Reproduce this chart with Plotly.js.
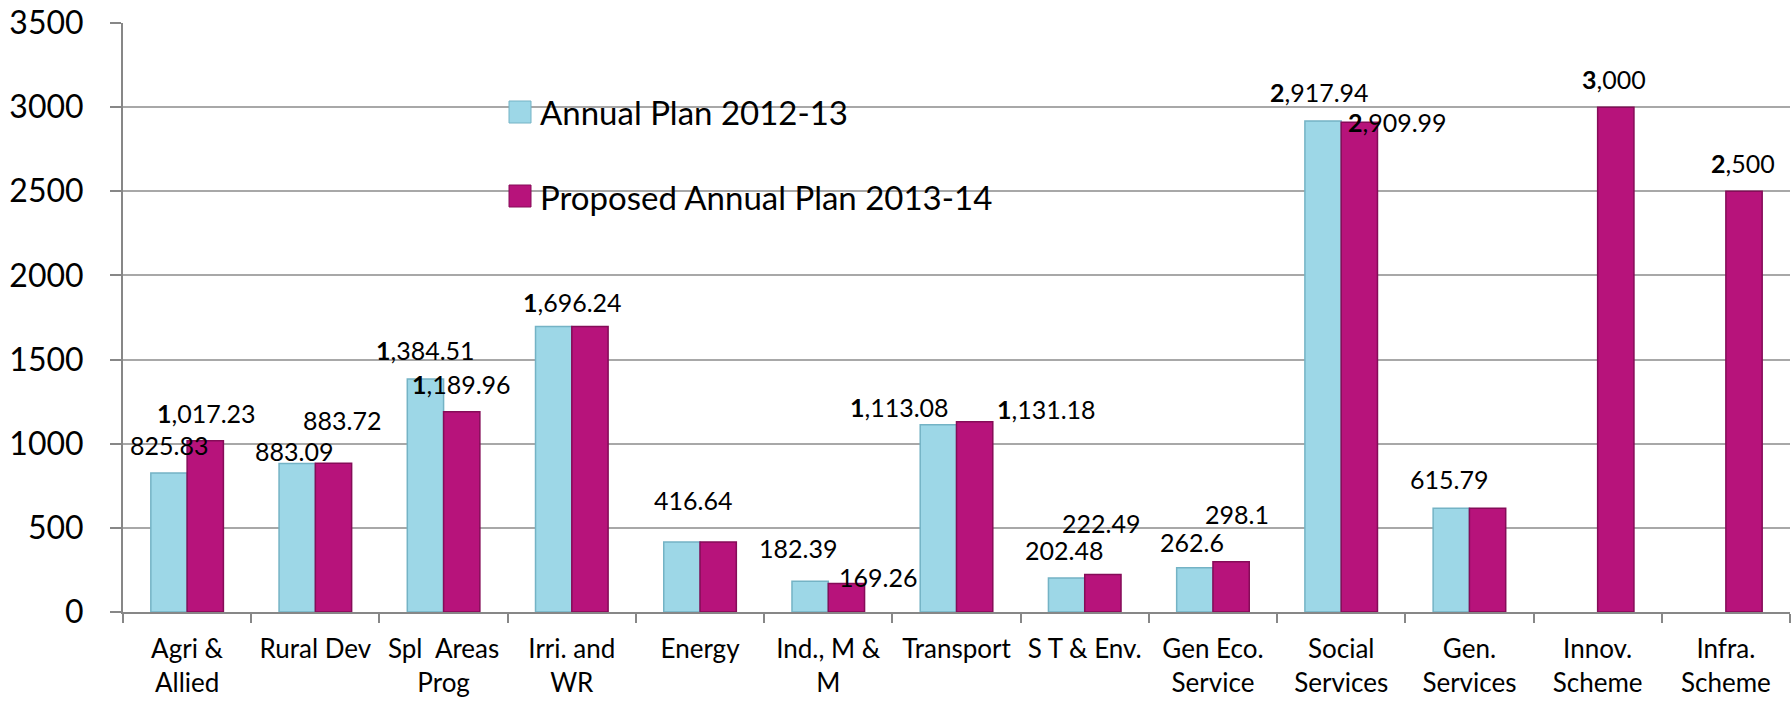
<!DOCTYPE html>
<html><head><meta charset="utf-8">
<script src="https://cdn.plot.ly/plotly-3.0.1.min.js"></script>
<style>html,body{margin:0;padding:0;background:#fff;}#chart{width:1791px;height:701px;}</style>
</head><body><div id="chart"></div>
<script>
// ---- data ----
const categories = ["Agri &<br>Allied", "Rural Dev", "Spl\u00a0 Areas<br>Prog", "Irri. and<br>WR", "Energy",
  "Ind., M &<br>M", "Transport", "S T & Env.", "Gen Eco.<br>Service", "Social<br>Services",
  "Gen.<br>Services", "Innov.<br>Scheme", "Infra.<br>Scheme"];
const annualPlan2012_13 = [825.83, 883.09, 1384.51, 1696.24, 416.64, 182.39, 1113.08, 202.48, 262.6, 2917.94, 615.79, null, null];
const proposedPlan2013_14 = [1017.23, 883.72, 1189.96, 1696.24, 416.64, 169.26, 1131.18, 222.49, 298.1, 2909.99, 615.79, 3000, 2500];
const seriesNames = ["Annual Plan 2012-13", "Proposed Annual Plan 2013-14"];
const yTickValues = [0, 500, 1000, 1500, 2000, 2500, 3000, 3500];

// ---- label placement (pixel offsets from bar top centre) ----
const labelShiftX_A = [0, -3, 0, 19, 11, -12, -39, -3, -3, -4, -2, 0, 0];
const labelShiftY_A = [28, 12, 29, 25, 42, 33, 18, 28, 26, 29, 29, 0, 0];
const labelShiftX_P = [1, 9, 0, -17, -25, 32, 72, -2, 6, 38, -37, -2, -1];
const labelShiftY_P = [28, 43, 28, 25, 42, 7, 13, 52, 48, 0, 29, 28, 28];

// ---- styles ----
const colorA = '#9DD7E7', edgeA = '#74B3C5';
const colorP = '#B7137B', edgeP = '#850C58';
const FONT = 'Lato, "Open Sans", sans-serif';
const axisGray = '#878787';

function fmt(v) {
  const s = v.toLocaleString('en-US', {maximumFractionDigits: 2});
  return v >= 1000 ? '<b>' + s[0] + '</b>' + s.slice(1) : s;
}

const traces = [
  {type: 'bar', name: seriesNames[0], x: categories, y: annualPlan2012_13,
   marker: {color: colorA, line: {color: edgeA, width: 1.5}}, hoverinfo: 'skip', showlegend: false},
  {type: 'bar', name: seriesNames[1], x: categories, y: proposedPlan2013_14,
   marker: {color: colorP, line: {color: edgeP, width: 1.5}}, hoverinfo: 'skip', showlegend: false}
];

const annotations = [];
function addLabels(vals, sx, sy, skip) {
  vals.forEach((v, i) => {
    if (v === null || (skip && skip(i))) return;
    annotations.push({x: categories[i], y: v, xref: 'x', yref: 'y', text: fmt(v),
      showarrow: false, xanchor: 'center', yanchor: 'middle', xshift: sx[i], yshift: sy[i],
      font: {family: FONT, size: 25, color: '#000'}});
  });
}
// shift relative to the bar centre: bars are offset by a quarter of the group
addLabels(annualPlan2012_13, labelShiftX_A.map(s => s - 18), labelShiftY_A);
// where both series are equal the two labels coincide in the source: draw it once
addLabels(proposedPlan2013_14, labelShiftX_P.map(s => s + 18), labelShiftY_P,
  i => annualPlan2012_13[i] === proposedPlan2013_14[i]);

// ---- custom legend (white box hiding gridlines, squares, text) ----
const plotL = 123, plotR = 1790, plotT = 23, plotB = 612;
const px = v => (v - plotL) / (plotR - plotL);
const py = v => (plotB - v) / (plotB - plotT);
const shapes = [
  {type: 'rect', xref: 'paper', yref: 'paper', x0: px(413), x1: px(1096), y0: py(250), y1: py(40),
   fillcolor: '#fff', line: {width: 0}, layer: 'between'},
  {type: 'rect', xref: 'paper', yref: 'paper', x0: px(509), x1: px(531), y0: py(123), y1: py(101),
   fillcolor: colorA, line: {color: edgeA, width: 1}},
  {type: 'rect', xref: 'paper', yref: 'paper', x0: px(509), x1: px(531), y0: py(207), y1: py(185),
   fillcolor: colorP, line: {color: edgeP, width: 1}}
];
annotations.push({xref: 'paper', yref: 'paper', x: px(538), y: py(112), text: seriesNames[0],
  showarrow: false, xanchor: 'left', yanchor: 'middle', font: {family: FONT, size: 33, color: '#000'}});
annotations.push({xref: 'paper', yref: 'paper', x: px(538), y: py(197), text: seriesNames[1],
  showarrow: false, xanchor: 'left', yanchor: 'middle', font: {family: FONT, size: 33, color: '#000'}});

const layout = {
  width: 1791, height: 701,
  margin: {l: plotL, r: 1791 - plotR, t: plotT, b: 701 - plotB},
  paper_bgcolor: '#fff', plot_bgcolor: '#fff',
  barmode: 'group', bargap: 0.434, bargroupgap: 0,
  showlegend: false,
  font: {family: FONT, color: '#000'},
  xaxis: {type: 'category', tickson: 'boundaries', ticks: 'outside', ticklen: 9, tickwidth: 2,
    tickcolor: axisGray, showline: true, linecolor: axisGray, linewidth: 2, showgrid: false,
    tickfont: {family: FONT, size: 26, color: '#000'}, ticklabelstandoff: 13, automargin: false},
  yaxis: {range: [0, 3500], tickvals: yTickValues, ticks: 'outside', ticklen: 11, tickwidth: 2,
    tickcolor: axisGray, showline: true, linecolor: axisGray, linewidth: 2,
    showgrid: true, gridcolor: '#A8A8A8', gridwidth: 2, zeroline: false,
    tickfont: {family: FONT, size: 32, color: '#000'}, ticklabelstandoff: 20, automargin: false},
  shapes: shapes,
  annotations: annotations,
  hovermode: false
};

Plotly.newPlot('chart', traces, layout, {displayModeBar: false, staticPlot: true});
</script></body></html>
